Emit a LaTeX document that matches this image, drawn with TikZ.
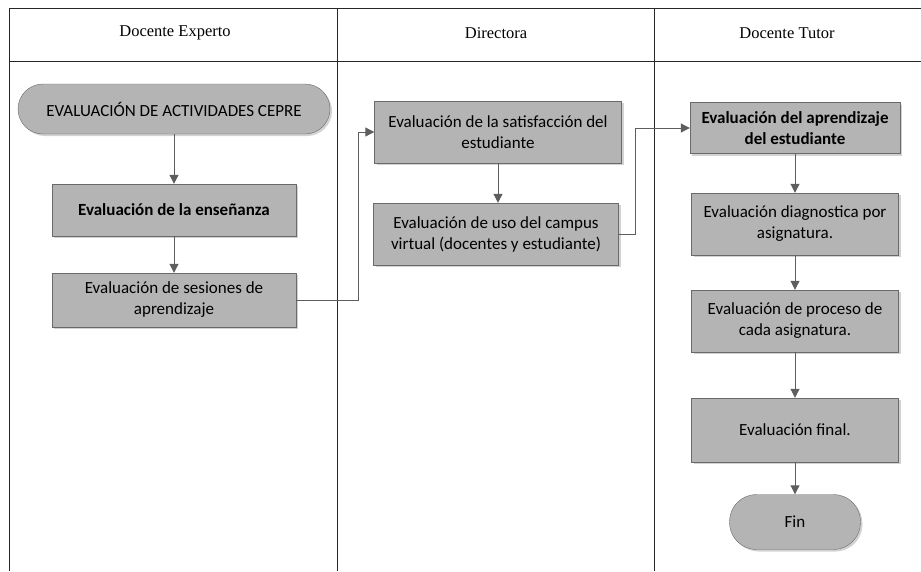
\documentclass[tikz,border=0pt]{standalone}
\usepackage{fontspec}
\setmainfont{Liberation Serif}
\newfontfamily\boxfont{Carlito}
\usetikzlibrary{positioning, arrows.meta, calc, shadows}

\definecolor{boxgray}{HTML}{B4B4B4}
\definecolor{edgegray}{HTML}{6A6A6A}
\definecolor{arrowgray}{HTML}{5E5E5E}

\begin{document}
\begin{tikzpicture}
  [
    x=1pt, y=-1pt,
    lane/.style={draw=black!85, line width=0.9pt},
    header/.style={font=\fontsize{16.5}{19}\selectfont},
    task/.style={draw=edgegray, fill=boxgray, rectangle, align=center,
      inner sep=2pt, font=\boxfont\fontsize{17}{21}\selectfont,
      drop shadow={shadow xshift=2pt, shadow yshift=-2pt, fill=black!35}},
    boldtask/.style={task, font=\boxfont\bfseries\fontsize{17}{21}\selectfont},
    terminal/.style={task, rounded corners=25pt},
    flow/.style={-{Triangle[length=9pt, width=9pt]}, draw=arrowgray, line width=1pt}
  ]
    \useasboundingbox (0,0) rectangle (921,571);
    % =========================================================================
    % LANES
    % =========================================================================
    \draw [lane] (921,8) -- (9,8) -- (9,571);
    \draw [lane] (9,61) -- (921,61);
    \draw [lane] (337,8) -- (337,571);
    \draw [lane] (654,8) -- (654,571);
    \node [header] (h1) at (175,33) {Docente Experto};
    \node [header] (h2) at (496,33) {Directora};
    \node [header] (h3) at (787,33) {Docente Tutor};

    % =========================================================================
    % NODES
    % =========================================================================
    % --- Docente Experto ---
    \node [terminal, minimum width=312pt, minimum height=50pt] (start) at (174,109)
      {EVALUACIÓN DE ACTIVIDADES CEPRE};
    \node [boldtask, minimum width=244pt, minimum height=52pt] (ensenanza) at (174,210)
      {Evaluación de la enseñanza};
    \node [task, minimum width=244pt, minimum height=54pt] (sesiones) at (174,300)
      {Evaluación de sesiones de\\aprendizaje};
    % --- Directora ---
    \node [task, minimum width=247pt, minimum height=62pt] (satisf) at (498,132)
      {Evaluación de la satisfacción del\\estudiante};
    \node [task, minimum width=245pt, minimum height=62pt] (campus) at (496,234)
      {Evaluación de uso del campus\\virtual (docentes y estudiante)};
    % --- Docente Tutor ---
    \node [boldtask, minimum width=210pt, minimum height=51pt] (aprendizaje) at (795,128)
      {Evaluación del aprendizaje\\del estudiante};
    \node [task, minimum width=207pt, minimum height=62pt] (diagnostica) at (795,224)
      {Evaluación diagnostica por\\asignatura.};
    \node [task, minimum width=207pt, minimum height=62pt] (proceso) at (795,321)
      {Evaluación de proceso de\\cada asignatura.};
    \node [task, minimum width=207pt, minimum height=64pt] (final) at (795,430)
      {Evaluación final.};
    \node [terminal, minimum width=131pt, minimum height=55pt, rounded corners=27pt] (fin) at (795,522)
      {Fin};

    \coordinate (j1) at (358,132);
    \coordinate (j2) at (635,128);

    % =========================================================================
    % PATHS
    % =========================================================================
    \draw [flow] (start.south) -- (ensenanza.north);
    \draw [flow] (ensenanza.south) -- (sesiones.north);
    \draw [flow] (sesiones.east) -| (j1) -- (satisf.west);
    \draw [flow] (satisf.south) -- (satisf.south |- campus.north);
    \draw [flow] (campus.east) -| (j2) -- (aprendizaje.west);
    \draw [flow] (aprendizaje.south) -- (diagnostica.north);
    \draw [flow] (diagnostica.south) -- (proceso.north);
    \draw [flow] (proceso.south) -- (final.north);
    \draw [flow] (final.south) -- (fin.north);

\end{tikzpicture}
\end{document}
